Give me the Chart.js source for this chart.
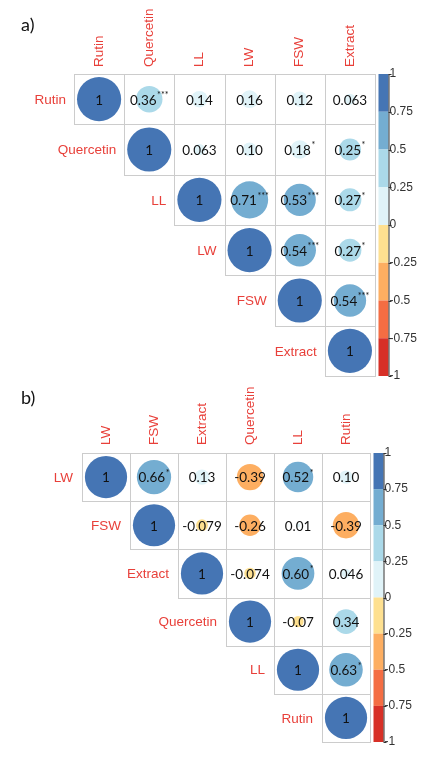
<!DOCTYPE html>
<html>
<head>
<meta charset="utf-8">
<script src="https://cdn.jsdelivr.net/npm/chart.js@4.4.0/dist/chart.umd.min.js"></script>
<style>
  html, body { margin: 0; padding: 0; background: #fff; }
  body { width: 429px; height: 760px; position: relative; overflow: hidden; }
  .panel { position: absolute; left: 0; width: 429px; height: 400px; }
</style>
</head>
<body>
<div class="panel" style="top:0"><canvas id="chartA"></canvas></div>
<div class="panel" style="top:380px"><canvas id="chartB"></canvas></div>
<script>
// panel a) - variables and upper triangle (row i holds columns i..5)
const varsA = ['Rutin', 'Quercetin', 'LL', 'LW', 'FSW', 'Extract'];
const corrA = [
  ['1', '0.36', '0.14', '0.16', '0.12', '0.063'],
  ['1', '0.063', '0.10', '0.18', '0.25'],
  ['1', '0.71', '0.53', '0.27'],
  ['1', '0.54', '0.27'],
  ['1', '0.54'],
  ['1']
];
const starsA = [
  ['', '***', '', '', '', ''],
  ['', '', '', '*', '*'],
  ['', '***', '***', '*'],
  ['', '***', '*'],
  ['', '***'],
  ['']
];

// panel b)
const varsB = ['LW', 'FSW', 'Extract', 'Quercetin', 'LL', 'Rutin'];
const corrB = [
  ['1', '0.66', '0.13', '-0.39', '0.52', '0.10'],
  ['1', '-0.079', '-0.26', '0.01', '-0.39'],
  ['1', '-0.074', '0.60', '0.046'],
  ['1', '-0.07', '0.34'],
  ['1', '0.63'],
  ['1']
];
const starsB = [
  ['', '*', '', '', '*', ''],
  ['', '', '', '', ''],
  ['', '', '*', ''],
  ['', '', ''],
  ['', '*'],
  ['']
];

// colour legend
const legendTicks = ['1', '0.75', '0.5', '0.25', '0', '-0.25', '-0.5', '-0.75', '-1'];
const palette = ['#4575b4', '#74add1', '#abd9e9', '#e0f3f8', '#fee090', '#fdae61', '#f46d43', '#d73027'];

const labelRed = '#e8403a';

function colorFor(v) {
  let k = Math.floor((1 - v) / 0.25 - 1e-9);
  k = Math.max(0, Math.min(7, k));
  return palette[k];
}

function buildPoints(rows, stars) {
  const pts = [];
  rows.forEach((row, i) => {
    row.forEach((txt, k) => {
      pts.push({ x: i + k, y: i, v: parseFloat(txt), txt: txt, st: stars[i][k] });
    });
  });
  return pts;
}

function makePanel(canvasId, tag, names, rows, stars, pad, colGap, rowGap) {
  const points = buildPoints(rows, stars);
  const cell = (429 - pad.left - pad.right) / names.length;

  const corrPlugin = {
    id: 'corr',
    beforeDatasetsDraw(chart) {
      const { ctx, scales: { x, y } } = chart;
      ctx.save();
      ctx.strokeStyle = '#cccccc';
      ctx.lineWidth = 1;
      points.forEach(p => {
        const l = Math.round(x.getPixelForValue(p.x - 0.5)) + 0.5;
        const r = Math.round(x.getPixelForValue(p.x + 0.5)) + 0.5;
        const t = Math.round(y.getPixelForValue(p.y - 0.5)) + 0.5;
        const b = Math.round(y.getPixelForValue(p.y + 0.5)) + 0.5;
        ctx.strokeRect(l, t, r - l, b - t);
      });
      ctx.restore();
    },
    afterDatasetsDraw(chart) {
      const { ctx, chartArea, scales: { x, y, cb } } = chart;
      ctx.save();

      // numbers in cells
      points.forEach(p => {
        const cx = x.getPixelForValue(p.x);
        const cy = y.getPixelForValue(p.y);
        ctx.font = '13.5px Lato, "Open Sans", sans-serif';
        const nw = ctx.measureText(p.txt).width;
        ctx.font = '9px Lato, sans-serif';
        const sw = p.st ? ctx.measureText(p.st).width + 0.5 : 0;
        const sx = cx - (nw + sw) / 2;
        ctx.fillStyle = '#111';
        ctx.textBaseline = 'middle';
        ctx.textAlign = 'left';
        ctx.font = '13.5px Lato, "Open Sans", sans-serif';
        ctx.fillText(p.txt, sx, cy + 1);
        if (p.st) {
          ctx.font = '9px Lato, sans-serif';
          ctx.fillText(p.st, sx + nw + 0.5, cy - 4);
        }
      });

      // variable names
      ctx.fillStyle = labelRed;
      ctx.font = '13.5px "Liberation Sans", Arial, sans-serif';
      names.forEach((n, i) => {
        // column labels, rotated
        const cx = x.getPixelForValue(i);
        ctx.save();
        ctx.translate(cx, chartArea.top - colGap);
        ctx.rotate(-Math.PI / 2);
        ctx.textAlign = 'left';
        ctx.textBaseline = 'middle';
        ctx.fillText(n, 0, 0);
        ctx.restore();
        // row labels, left of the diagonal cell
        ctx.textAlign = 'right';
        ctx.textBaseline = 'middle';
        ctx.fillText(n, x.getPixelForValue(i - 0.5) - rowGap, y.getPixelForValue(i) + 1);
      });

      // colour legend
      const bx = chartArea.right + 3.5;
      const bw = 10;
      for (let k = 0; k < palette.length; k++) {
        const t = cb.getPixelForValue(1 - k * 0.25);
        const b = cb.getPixelForValue(1 - (k + 1) * 0.25);
        ctx.fillStyle = palette[k];
        ctx.fillRect(bx, t, bw, b - t);
      }
      ctx.strokeStyle = '#333';
      ctx.lineWidth = 1;
      ctx.beginPath();
      ctx.moveTo(bx + bw + 0.5, cb.top);
      ctx.lineTo(bx + bw + 0.5, cb.bottom);
      legendTicks.forEach(tk => {
        const ty = Math.round(cb.getPixelForValue(parseFloat(tk))) + 0.5;
        ctx.moveTo(bx + bw, ty);
        ctx.lineTo(bx + bw + 3, ty);
      });
      ctx.stroke();
      ctx.fillStyle = '#333';
      ctx.font = '12px "Liberation Sans", Arial, sans-serif';
      ctx.textAlign = 'left';
      ctx.textBaseline = 'middle';
      legendTicks.forEach(tk => {
        ctx.fillText(tk, bx + bw + 1, cb.getPixelForValue(parseFloat(tk)));
      });

      // panel tag
      ctx.fillStyle = '#111';
      ctx.font = '18px Lato, "Open Sans", sans-serif';
      ctx.textAlign = 'left';
      ctx.fillText(tag, 21, pad.tagY);
      ctx.restore();
    }
  };

  return new Chart(document.getElementById(canvasId), {
    type: 'bubble',
    data: {
      datasets: [{
        data: points,
        backgroundColor: c => (c.raw ? colorFor(c.raw.v) : palette[0]),
        borderWidth: 0,
        radius: c => (c.raw ? Math.sqrt(Math.abs(c.raw.v)) * cell * 0.44 : 0)
      }]
    },
    options: {
      responsive: true,
      maintainAspectRatio: false,
      animation: false,
      events: [],
      layout: { padding: { left: pad.left, right: pad.right, top: pad.top, bottom: pad.bottom } },
      plugins: { legend: { display: false }, tooltip: { enabled: false } },
      scales: {
        x: { type: 'linear', min: -0.5, max: 5.5, display: false },
        y: { type: 'linear', min: -0.5, max: 5.5, reverse: true, display: false },
        cb: { type: 'linear', axis: 'y', min: -1, max: 1, display: false }
      }
    },
    plugins: [corrPlugin]
  });
}

// canvases are 400px tall; the bottom padding leaves room for bubble overflow
makePanel('chartA', 'a)', varsA, corrA, starsA,
  { left: 74, right: 54, top: 74, bottom: 24, tagY: 25 }, 7, 8);
makePanel('chartB', 'b)', varsB, corrB, starsB,
  { left: 82, right: 59, top: 73, bottom: 38, tagY: 18 }, 8, 9);
</script>
</body>
</html>
